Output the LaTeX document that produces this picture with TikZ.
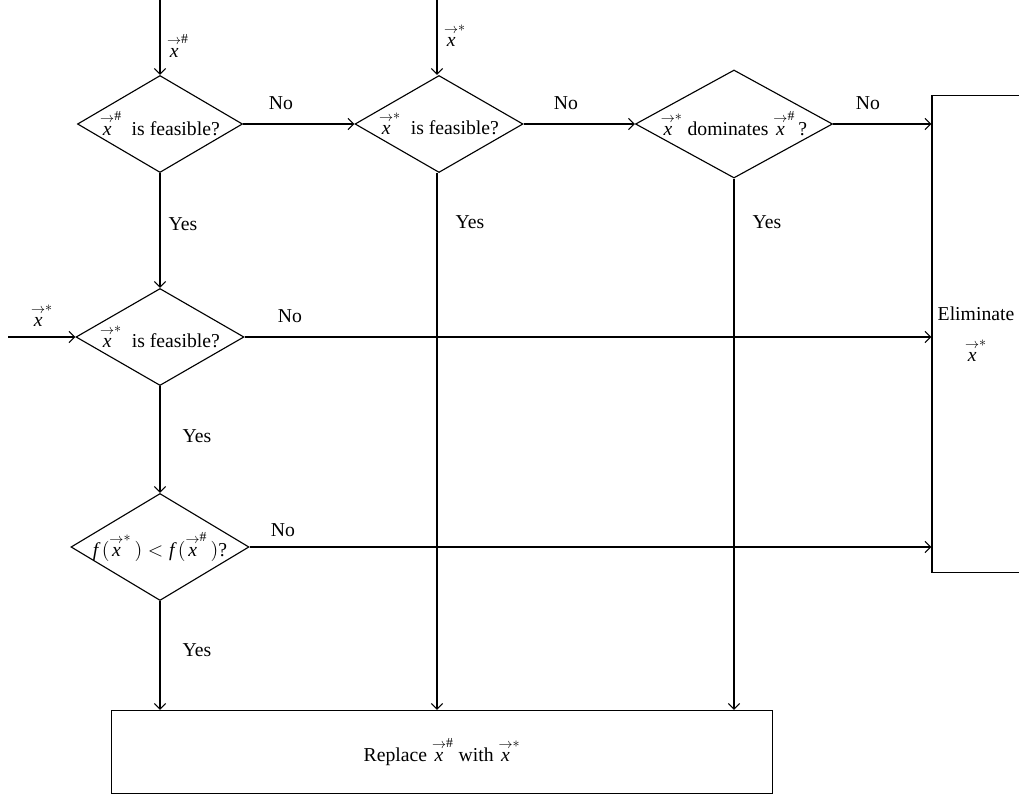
\documentclass[tikz,border=0pt]{standalone}
\usepackage{amsmath}
\usepackage{fontspec}
\setmainfont{Liberation Serif}
\usetikzlibrary{shapes.geometric,arrows.meta,positioning,calc}
\newcommand{\vx}[1]{\ensuremath{\overset{\scriptstyle\rightarrow}{\textit{x}}^{#1}}}

\begin{document}
\begin{tikzpicture}[x=0.025cm, y=-0.025cm,
    font=\fontsize{14}{17}\selectfont,
    decisione/.style={diamond, draw, line width=0.8pt, inner sep=0pt, align=center},
    blocco/.style={rectangle, draw, line width=0.8pt, align=center, inner sep=0pt},
    freccia/.style={line width=0.8pt, -{Straight Barb[length=4pt,width=8pt]}}]
    \clip (0,0) rectangle (1019,797);

    % Decisioni
    \node[decisione, aspect=1.7, inner xsep=-3pt, minimum width=4.125cm, minimum height=2.425cm] (fxa) at (160,124) {\vx{\#} \ is feasible?};
    \node[decisione, aspect=1.7, inner xsep=-3pt, minimum width=4.2cm, minimum height=2.425cm] (fxb) at (439,124) {\vx{*} \ is feasible?};
    \node[decisione, aspect=1.82, inner xsep=-8pt, minimum width=4.925cm, minimum height=2.7cm] (dom) at (734,124) {\vx{*} dominates \vx{\#}\,?};
    \node[decisione, aspect=1.7, inner xsep=-3pt, minimum width=4.2cm, minimum height=2.425cm] (fxc) at (160,337) {\vx{*} \ is feasible?};
    \node[decisione, aspect=1.66, inner xsep=-14pt, minimum width=4.45cm, minimum height=2.675cm] (cmp) at (160,547) {$\textit{f}\,(\vx{*}\,) < \textit{f}\,(\vx{\#}\,)$?};

    % Blocchi finali
    \node[blocco, minimum width=2.2cm, minimum height=11.925cm] (elim) at (976,334) {Eliminate\\[12pt] \vx{*}};
    \node[blocco, minimum width=16.5cm, minimum height=2.075cm] (repl) at (442,752) {Replace \vx{\#} with \vx{*}};

    % Ingressi
    \coordinate (ina) at (160,0);
    \coordinate (inb) at (437,0);
    \coordinate (inc) at (8,337);
    \draw[freccia] (ina) -- (fxa.north);
    \draw[freccia] (inb) -- (inb |- fxb.north);
    \draw[freccia] (inc) -- (fxc.west);
    \node (lina) at (178,46) {\vx{\#}};
    \node (linb) at (455,36) {\vx{*}};
    \node (linc) at (42,316) {\vx{*}};

    % Rami No
    \draw[freccia] (fxa.east) -- (fxb.west);
    \draw[freccia] (fxb.east) -- (dom.west);
    \draw[freccia] (dom.east) -- (dom.east -| elim.west);
    \draw[freccia] (fxc.east) -- (fxc.east -| elim.west);
    \draw[freccia] (cmp.east) -- (cmp.east -| elim.west);
    \node (noa) at (281,103) {No};
    \node (nob) at (566,103) {No};
    \node (noc) at (868,103) {No};
    \node (nod) at (290,316) {No};
    \node (noe) at (283,530) {No};

    % Rami Yes
    \draw[freccia] (fxa.south) -- (fxc.north);
    \draw[freccia] (fxc.south) -- (cmp.north);
    \draw[freccia] (cmp.south) -- (cmp.south |- repl.north);
    \draw[freccia] (inb |- fxb.south) -- (inb |- repl.north);
    \draw[freccia] (dom.south) -- (dom.south |- repl.north);
    \node (sia) at (183,224) {Yes};
    \node (sib) at (470,222) {Yes};
    \node (sic) at (767,222) {Yes};
    \node (sid) at (197,436) {Yes};
    \node (sie) at (197,650) {Yes};
\end{tikzpicture}
\end{document}
